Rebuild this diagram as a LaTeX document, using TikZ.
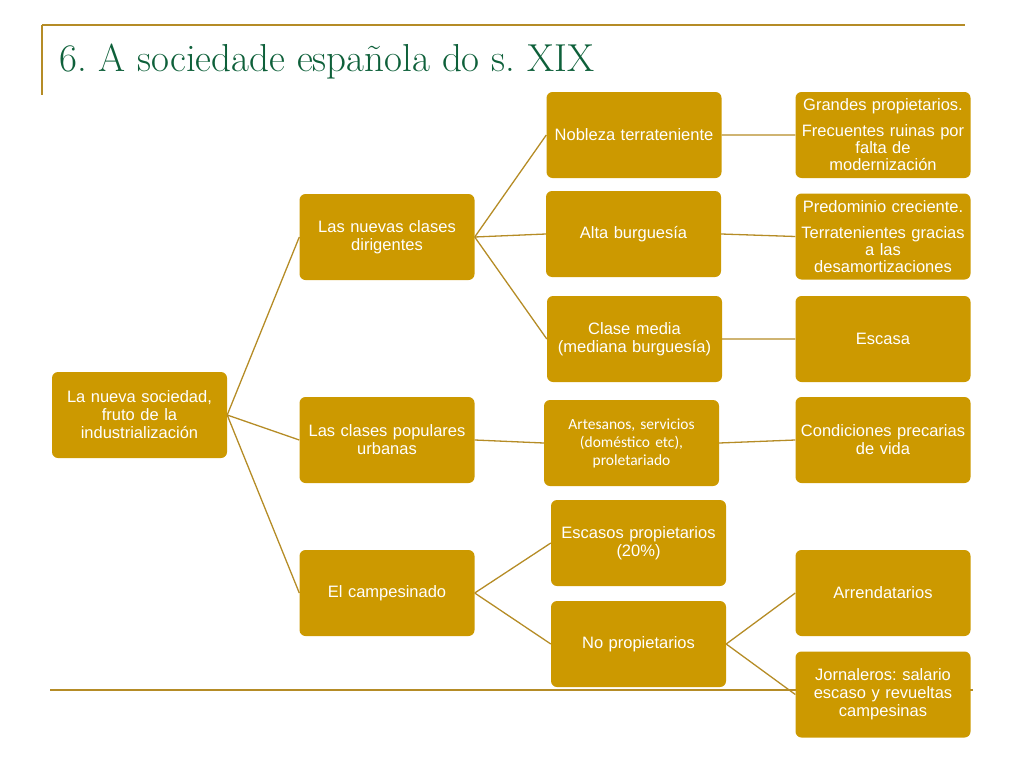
\documentclass[tikz,border=0pt]{standalone}
\usepackage{fontspec}
\newfontfamily\arialfont{Liberation Sans}
\newfontfamily\calibrifont{Carlito}
\definecolor{gold}{RGB}{204,153,0}
\definecolor{goldline}{RGB}{181,140,38}
\definecolor{titlegreen}{RGB}{14,96,58}
\frenchspacing

\begin{document}
\begin{tikzpicture}[x=1pt, y=-1pt,
    box/.style={rectangle, rounded corners=6pt, fill=gold, text=white,
      minimum width=175pt, minimum height=86pt, text width=173pt, align=center,
      inner sep=1pt, font=\arialfont\fontsize{16.5}{18}\selectfont},
    note/.style={box, font=\arialfont\fontsize{16.5}{17}\selectfont},
    link/.style={goldline, line width=1.3pt}
    ]
    \useasboundingbox (0,0) rectangle (1024,768);
    \draw[goldline, line width=2pt] (42,25) -- (965,25);
    \draw[goldline, line width=2pt] (42,25) -- (42,95);
    \draw[goldline, line width=2pt] (50,690) -- (973,690);
    \node[anchor=base west, inner sep=0pt, text=titlegreen,
      font=\fontsize{39}{42}\selectfont] (title) at (59,71) {6. A sociedade española do s. XIX};

    \node[box] (root) at (139.5,415) {La nueva sociedad,\\fruto de la\\industrialización};
    \node[box] (dir) at (387,237) {Las nuevas clases\\dirigentes};
    \node[box] (pop) at (387,440) {Las clases populares\\urbanas};
    \node[box] (camp) at (387,593) {El campesinado};
    \node[box] (nob) at (634,135) {Nobleza terrateniente};
    \node[box] (alta) at (633.5,234) {Alta burguesía};
    \node[box] (media) at (634.5,339) {Clase media\\(mediana burguesía)};
    \node[box, font=\calibrifont\fontsize{15.5}{18}\selectfont] (art) at (631.5,443)
      {Artesanos, servicios\\(doméstico etc),\\proletariado};
    \node[box] (esc) at (638.5,543) {Escasos propietarios\\(20\%)};
    \node[box] (nopro) at (638.5,644) {No propietarios};
    \node[note] (gran) at (883,135) {Grandes propietarios.\\[9pt]Frecuentes ruinas por\\falta de\\modernización};
    \node[note] (pred) at (883,236.5) {Predominio creciente.\\[9pt]Terratenientes gracias\\a las\\desamortizaciones};
    \node[box] (escasa) at (883,339) {Escasa};
    \node[box] (cond) at (883,440) {Condiciones precarias\\de vida};
    \node[box] (arren) at (883,593) {Arrendatarios};
    \node[box] (jorn) at (883,694.5) {Jornaleros: salario\\escaso y revueltas\\campesinas};

    \draw[link] (root.east) -- (dir.west) (root.east) -- (pop.west) (root.east) -- (camp.west)
      (dir.east) -- (nob.west) (dir.east) -- (alta.west) (dir.east) -- (media.west)
      (pop.east) -- (art.west) (camp.east) -- (esc.west) (camp.east) -- (nopro.west)
      (nob.east) -- (gran.west) (alta.east) -- (pred.west) (media.east) -- (escasa.west)
      (art.east) -- (cond.west) (nopro.east) -- (arren.west) (nopro.east) -- (jorn.west);
\end{tikzpicture}
\end{document}
